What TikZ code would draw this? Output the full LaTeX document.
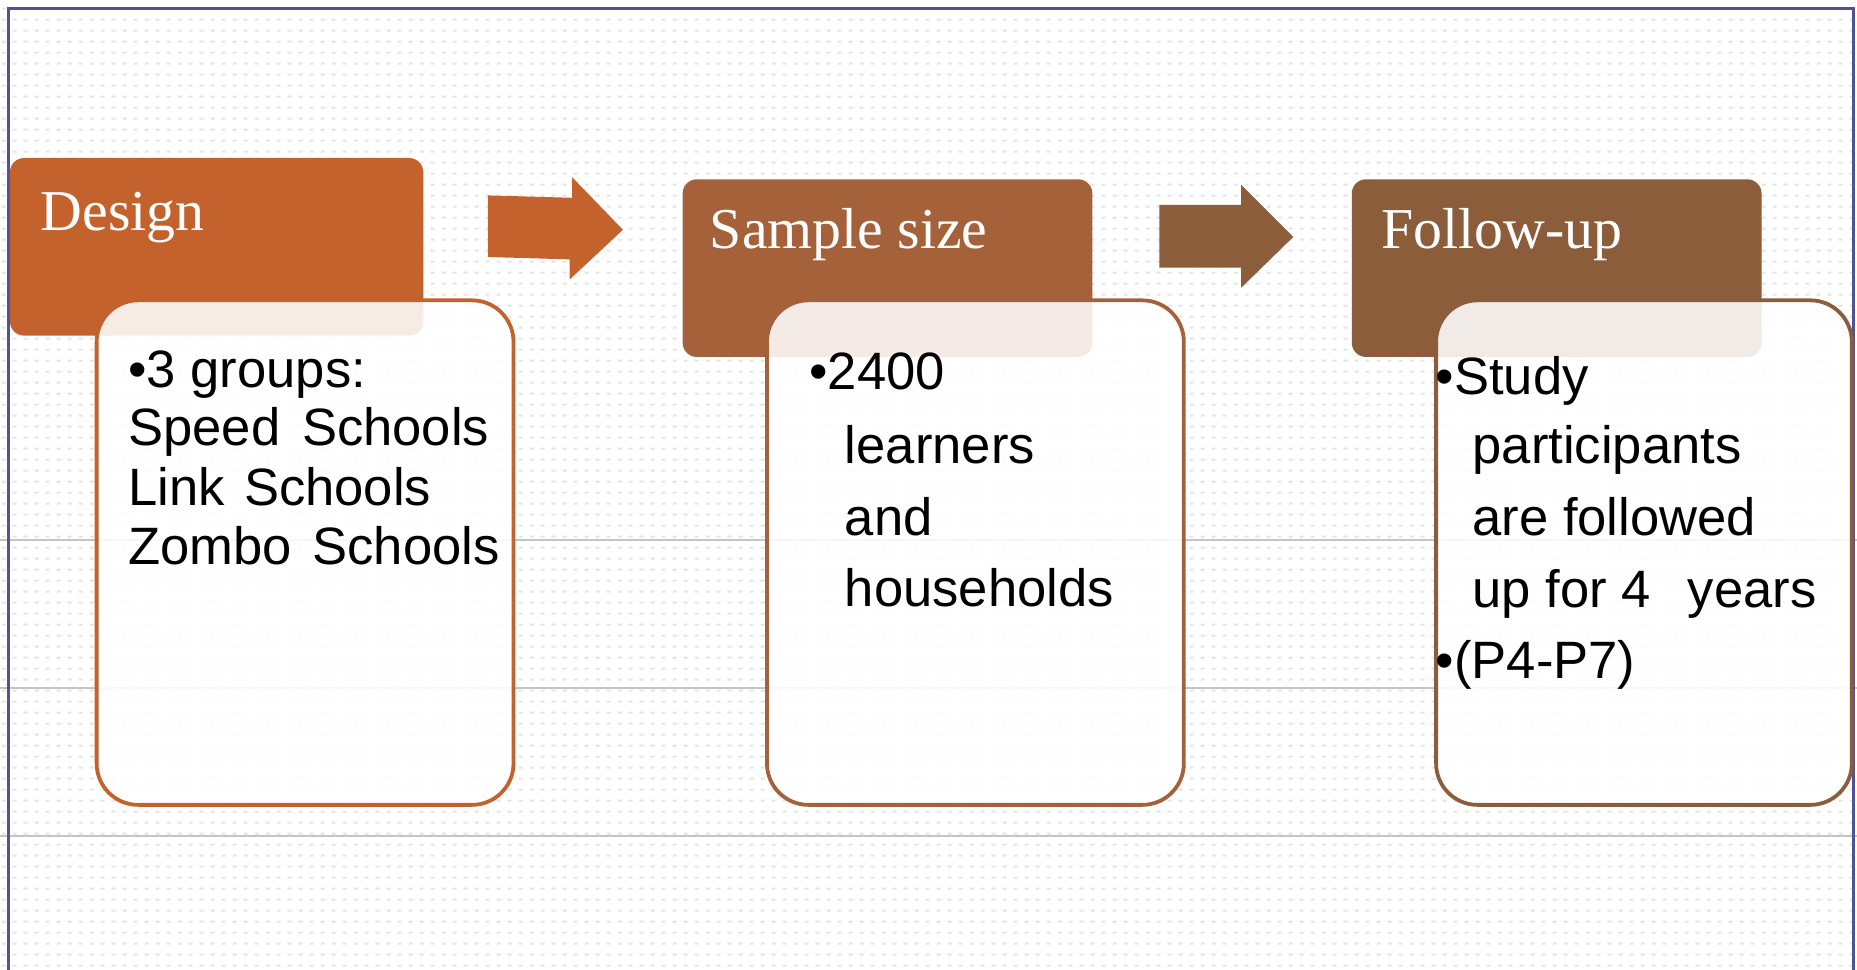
\documentclass[tikz,border=0pt]{standalone}
\usepackage{fontspec}
\setmainfont{Liberation Serif}
\newfontfamily\bodyfont{Liberation Sans}
\usetikzlibrary{patterns}
\definecolor{cA}{HTML}{C4622D}
\definecolor{cB}{HTML}{A5613A}
\definecolor{cC}{HTML}{8B5D3B}
\definecolor{frameblue}{HTML}{4F5396}
\definecolor{gridgray}{HTML}{C4C4C4}
\definecolor{dotgray}{HTML}{E4E4E4}
\pgfdeclarepatternformonly{bgdots}{\pgfpointorigin}{\pgfqpoint{4.8pt}{4.8pt}}{\pgfqpoint{4.8pt}{4.8pt}}{%
  \pgfpathrectangle{\pgfqpoint{1.2pt}{2pt}}{\pgfqpoint{1.7pt}{0.8pt}}\pgfusepath{fill}}
\begin{document}
\begin{tikzpicture}[x=0.5pt,y=-0.5pt,
  hdr/.style={anchor=north west, minimum height=75pt, rounded corners=6pt, inner sep=0pt, draw=none},
  cbox/.style={anchor=north west, minimum width=176pt, minimum height=213pt, rounded corners=17.5pt,
    fill=white, fill opacity=0.88, line width=1.6pt, inner sep=0pt},
  htext/.style={anchor=base west, inner sep=0pt, text=white, font=\fontsize{24.4}{28}\selectfont},
  btext/.style={anchor=base west, inner sep=0pt, text=black, font=\bodyfont\fontsize{22.2}{26}\selectfont},
  gridline/.style={draw=gridgray, line width=0.9pt},
  framestyle/.style={draw=frameblue, line width=1.1pt}]
\useasboundingbox (0,0) rectangle (1568,819);
\fill[white] (0,0) rectangle (1568,819);
\fill[pattern=bgdots, pattern color=dotgray] (0,0) rectangle (1568,819);
% horizontal ruling lines
\coordinate (l1a) at (0,456); \coordinate (l1b) at (1568,456);
\coordinate (l2a) at (0,581); \coordinate (l2b) at (1568,581);
\coordinate (l3a) at (0,706); \coordinate (l3b) at (1568,706);
\draw[gridline] (l1a) -- (l1b);
\draw[gridline] (l2a) -- (l2b);
\draw[gridline] (l3a) -- (l3b);
% frame
\coordinate (fbl) at (7,830); \coordinate (ftl) at (7,7);
\coordinate (ftr) at (1565,7); \coordinate (fbr) at (1565,830);
\draw[framestyle] (fbl) -- (ftl) -- (ftr) -- (fbr);
% headers
\node[hdr, fill=cA, minimum width=174.5pt] (h1) at (8,133) {};
\node[hdr, fill=cB, minimum width=173pt] (h2) at (576,151) {};
\node[hdr, fill=cC, minimum width=173pt] (h3) at (1141,151) {};
% block arrows
\fill[cA] (412,165) -- (483,167) -- (483,149.5) -- (526,194) -- (481,236) -- (481,219) -- (412,217) -- cycle;
\fill[cC] (979,173) -- (1048,173) -- (1048,156) -- (1092,200) -- (1048,243) -- (1048,226) -- (979,226) -- cycle;
% content boxes
\node[cbox, draw=cA] (b1) at (80,252) {};
\node[cbox, draw=cB] (b2) at (646,252) {};
\node[cbox, draw=cC, minimum width=175.5pt] (b3) at (1211,252) {};
% header texts
\node[htext] (h1t) at (34,195) {Design};
\node[htext] (h2t) at (599,210) {Sample size};
\node[htext] (h3t) at (1166,210) {Follow-up};
% box 1 text
\node[btext] (t1a) at (108,327) {•3 groups:};
\node[btext] (t1b) at (108,376) {Speed\hspace{3pt} Schools};
\node[btext] (t1c) at (108,427) {Link\hspace{2pt} Schools};
\node[btext] (t1d) at (108,477) {Zombo\hspace{2.5pt} Schools};
% box 2 text
\node[btext] (t2a) at (683,329) {•2400};
\node[btext] (t2b) at (713,391) {learners};
\node[btext] (t2c) at (713,452) {and};
\node[btext] (t2d) at (713,512) {households};
% box 3 text
\node[btext] (t3a) at (1212,333) {•Study};
\node[btext] (t3b) at (1243,391) {participants};
\node[btext] (t3c) at (1243,452) {are followed};
\node[btext] (t3d) at (1243,513) {up for 4\hspace{9.5pt} years};
\node[btext] (t3e) at (1212,573) {•(P4-P7)};
\end{tikzpicture}
\end{document}
